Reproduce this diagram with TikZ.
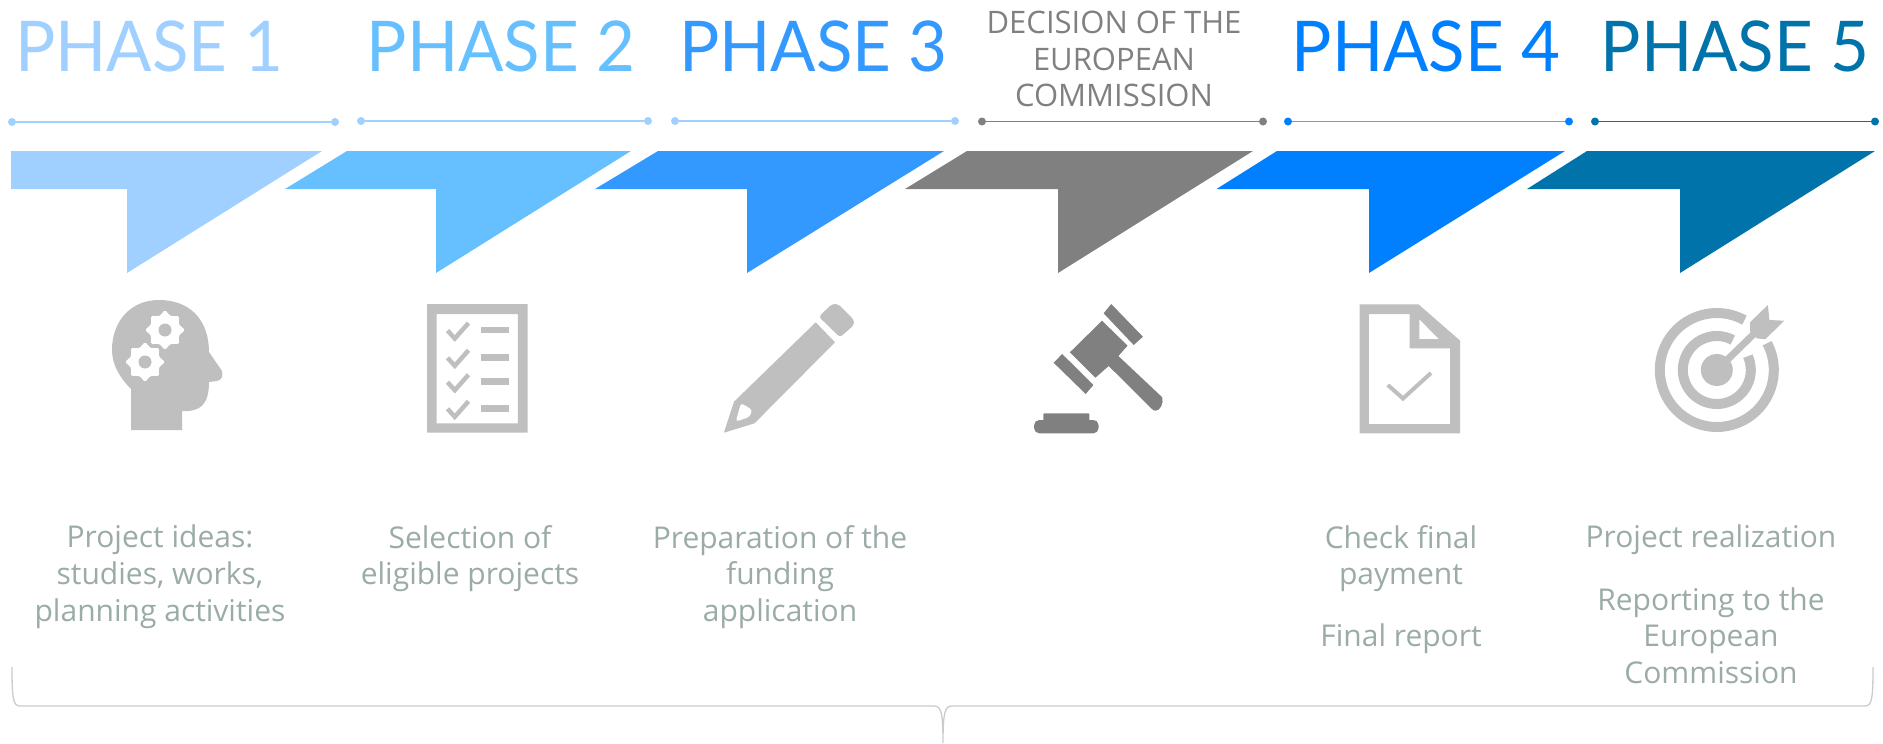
\documentclass[tikz,border=0pt]{standalone}
\usepackage{fontspec}
\setmainfont{Open Sans}
\newfontfamily\headfont[FakeStretch=0.96]{Lato}
\newfontfamily\decfont{Open Sans}
\usetikzlibrary{shapes.geometric}
\definecolor{phaseA}{HTML}{A0D0FF}
\definecolor{phaseB}{HTML}{66C0FF}
\definecolor{phaseC}{HTML}{3399FF}
\definecolor{phaseD}{HTML}{808080}
\definecolor{phaseE}{HTML}{0080FF}
\definecolor{phaseF}{HTML}{0073AA}
\definecolor{icongray}{HTML}{BFBFBF}
\definecolor{bodygray}{HTML}{9AABA8}
\definecolor{bracegray}{HTML}{C8CCCC}
\tikzset{
headlabel/.style={anchor=base, inner sep=0pt, font=\headfont\fontsize{70}{70}\selectfont},
declabel/.style={anchor=center, inner sep=0pt, align=center, text=phaseD, font=\decfont\fontsize{31}{36.5}\selectfont},
bodylabel/.style={anchor=north, inner sep=0pt, align=center, text=bodygray, font=\fontsize{30}{36.6}\selectfont},
enddot/.style={shape=circle, inner sep=0pt, minimum size=8pt},
geartooth/.style={shape=star, star points=8, star point ratio=1.35, inner sep=0pt, minimum size=40pt, fill=white, rounded corners=1.5pt},
gearhole/.style={shape=circle, inner sep=0pt, minimum size=13pt, fill=icongray},
}
\newcommand{\tickrow}[1]{
    \draw[icongray, line width=4.5pt] (447.5,#1+0.5) -- (454.8,#1+8.5) -- (468.5,#1-7);
    \fill[icongray] (480.5,#1-3.3) rectangle (508.5,#1+3.3);
}
\begin{document}
\begin{tikzpicture}[x=1pt,y=-1pt]
    \useasboundingbox (0,0) rectangle (1883,744);

    \node[headlabel, text=phaseA] (H1) at (149.5,71) {PHASE 1};
    \node[headlabel, text=phaseB] (H2) at (501,71) {PHASE 2};
    \node[headlabel, text=phaseC] (H3) at (813.5,71) {PHASE 3};
    \node[declabel] (H4) at (1114,59) {DECISION OF THE\\EUROPEAN\\COMMISSION};
    \node[headlabel, text=phaseE] (H5) at (1426,71) {PHASE 4};
    \node[headlabel, text=phaseF] (H6) at (1735,71) {PHASE 5};

    \node[enddot, fill=phaseA] (A1) at (12,122) {};
    \node[enddot, fill=phaseA] (A2) at (335,122) {};
    \node[enddot, fill=phaseA] (B1) at (361,121) {};
    \node[enddot, fill=phaseA] (B2) at (648,121) {};
    \node[enddot, fill=phaseA] (C1) at (675,121) {};
    \node[enddot, fill=phaseA] (C2) at (955,121) {};
    \node[enddot, fill=phaseD] (D1) at (982,121.5) {};
    \node[enddot, fill=phaseD] (D2) at (1263,121.5) {};
    \node[enddot, fill=phaseE] (E1) at (1288,121.5) {};
    \node[enddot, fill=phaseE] (E2) at (1569,121.5) {};
    \node[enddot, fill=phaseF] (F1) at (1595,121.5) {};
    \node[enddot, fill=phaseF] (F2) at (1875,121.5) {};

    \draw[phaseA, line width=1.3pt] (A1) -- (A2);
    \draw[phaseA, line width=1.3pt] (B1) -- (B2);
    \draw[phaseA, line width=1.3pt] (C1) -- (C2);
    \draw[phaseD, line width=1.3pt] (D1) -- (D2);
    \draw[phaseE!70, line width=1.3pt] (E1) -- (E2);
    \draw[phaseF, line width=1.3pt] (F1) -- (F2);

    \fill[phaseA] (11,151) -- (322,151) -- (127,273) -- (127,189) -- (11,189) -- cycle;
    \fill[phaseB] (347,151) -- (631,151) -- (436,273) -- (436,189) -- (285,189) -- cycle;
    \fill[phaseC] (658,151) -- (944,151) -- (747,273) -- (747,189) -- (595,189) -- cycle;
    \fill[phaseD] (967,151) -- (1253,151) -- (1058,273) -- (1058,189) -- (905,189) -- cycle;
    \fill[phaseE] (1277,151) -- (1565,151) -- (1369,273) -- (1369,189) -- (1216.5,189) -- cycle;
    \fill[phaseF] (1587,151) -- (1875,151) -- (1680,273) -- (1680,189) -- (1527,189) -- cycle;

    \fill[icongray] (131,430) -- (182,430) -- (182,411) .. controls (200,412) and (209,405) .. (209,382)
        -- (217,381) .. controls (222,380) and (223,376) .. (222,371) -- (209,352)
        .. controls (209,320) and (190,300) .. (159,300) .. controls (130,300) and (112,322) .. (112,350)
        .. controls (112,365) and (120,378) .. (131,389) -- cycle;
    \node[geartooth] (G1) at (165,330) {};
    \node[gearhole] (G1h) at (165,330) {};
    \node[geartooth] (G2) at (145,362) {};
    \node[gearhole] (G2h) at (145,362) {};

    \fill[icongray, even odd rule] (427,304) rectangle (527.5,432.7) (436.6,314) rectangle (517.8,423.3);
    \tickrow{330}
    \tickrow{357.3}
    \tickrow{381.7}
    \tickrow{408.3}

    \fill[icongray] (723.9,432.7) -- (734,401.7) -- (815.7,322.3) -- (835,342.3) -- (754.5,423.3) -- cycle;
    \fill[icongray, rounded corners=3pt] (818.8,316.7) -- (832,304) -- (838,304) -- (854,320) -- (854,325) -- (840,337.3) -- cycle;
    \fill[white, rounded corners=3pt] (741,403) -- (752.4,410) -- (749.4,417) -- (735.7,421.7) -- cycle;

    \fill[phaseD] (1111.2,304) -- (1142.9,336.7) -- (1133.7,345) -- (1103.6,313.3) -- cycle;
    \fill[phaseD] (1102,320.7) -- (1127.6,345.7) -- (1118.4,356) -- (1162.2,397.3)
        .. controls (1164,403) and (1160,411) .. (1155.6,410.7) -- (1153,410) -- (1108.7,366) -- (1095.4,377.7) -- (1069.9,352.3) -- cycle;
    \fill[phaseD] (1062.2,354) -- (1093.4,385) -- (1085.7,394) -- (1053.6,362.7) -- cycle;
    \fill[phaseD, rounded corners=1pt] (1043.4,420) -- (1043.4,413.3) -- (1089.3,413.3) -- (1089.3,420);
    \fill[phaseD, rounded corners=5pt] (1034.2,420) rectangle (1098.5,433.3);

    \fill[icongray, even odd rule] (1359.7,304.3) -- (1418.4,304.3) -- (1460.2,340.7) -- (1460.2,433.3) -- (1359.7,433.3) -- cycle
        (1368.9,314) -- (1409.7,314) -- (1409.7,348.3) -- (1450,348.3) -- (1450,424) -- (1368.9,424) -- cycle
        (1419.4,319.3) -- (1438.8,339) -- (1419.4,339) -- cycle;
    \draw[icongray, line width=4pt] (1387.8,385) -- (1403,398.5) -- (1431,373);

    \begin{scope}[shift={(1716.8,370)}, y=1pt]
        \draw[icongray, line width=10pt] (61:57) arc[start angle=61, delta angle=327, radius=57];
        \draw[icongray, line width=10pt] (62:34) arc[start angle=62, delta angle=322, radius=34];
        \fill[icongray] (0,0) circle[radius=16];
        \draw[icongray, line width=7pt] (0,0) -- (38,37);
    \end{scope}
    \fill[icongray] (1767.9,305) -- (1769.4,320) -- (1784.2,320.7) -- (1765.3,339.3) -- (1756.6,338.3) -- (1750,331.7) -- (1750,322.3) -- cycle;

    \node[bodylabel] (T1) at (160,525) {Project ideas:\\studies, works,\\planning activities};
    \node[bodylabel] (T2) at (470,525) {Selection of\\eligible projects};
    \node[bodylabel] (T3) at (780,525) {Preparation of the\\funding\\application};
    \node[bodylabel] (T5) at (1401,525) {Check final\\payment\\[25.5pt]Final report};
    \node[bodylabel] (T6) at (1711,525) {Project realization\\[25.5pt]Reporting to the\\European\\Commission};

    \coordinate (BL) at (12,667);
    \coordinate (BR) at (1873,667);
    \coordinate (BT) at (943,743);
    \draw[bracegray, line width=1.3pt] (BL) .. controls (12,698) and (13,706) .. (20,706) -- (934,706)
        .. controls (941,706) and (943,712) .. (BT) .. controls (943,712) and (945,706) .. (952,706)
        -- (1865,706) .. controls (1872,706) and (1873,698) .. (BR);

\end{tikzpicture}
\end{document}
